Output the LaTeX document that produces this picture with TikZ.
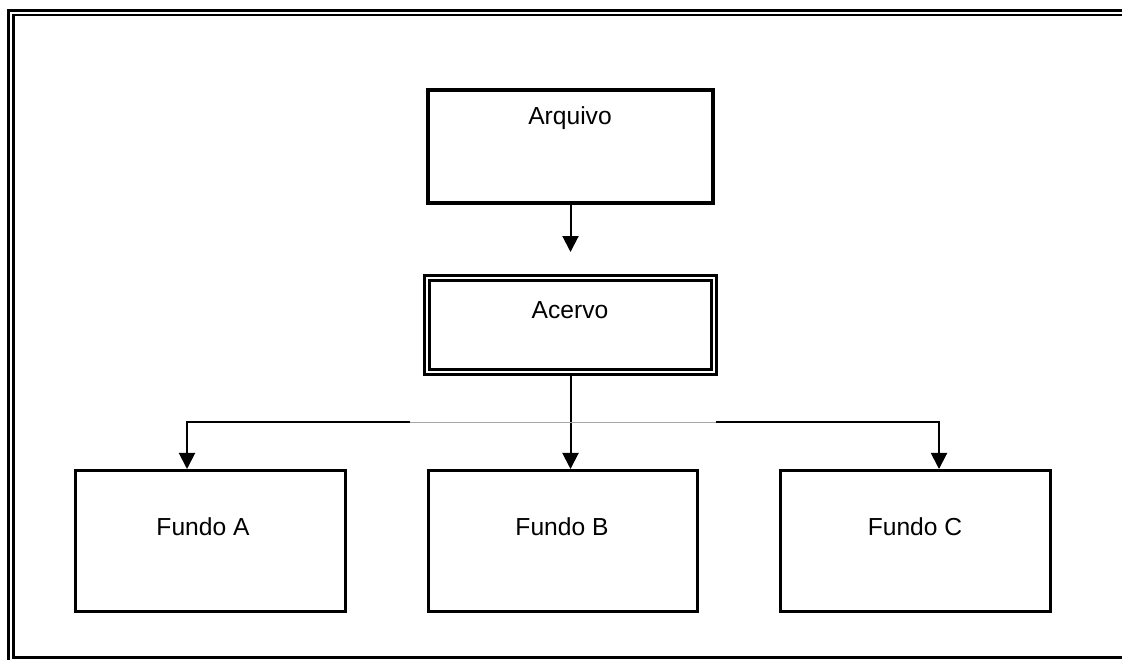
\documentclass[tikz,border=0pt]{standalone}
\usepackage{fontspec}
\setmainfont{Liberation Sans}
\usetikzlibrary{arrows.meta,calc}
\tikzset{
    block/.style = {draw, rectangle, line width=0.075cm, inner sep=0pt,
        minimum height=3.525cm,
        minimum width=6.75cm},
    topblock/.style = {block, line width=0.1cm,
        minimum height=2.825cm,
        minimum width=7.125cm},
    dblock/.style = {block, double, line width=0.075cm, double distance=0.05cm,
        minimum height=2.35cm,
        minimum width=7.175cm},
    txt/.style = {font=\fontsize{17.5pt}{20pt}\selectfont, inner sep=0pt},
    arrow/.style = {draw, line width=0.05cm, -{Triangle[width=0.4cm,length=0.4cm]}},
    bus/.style = {draw, line width=0.05cm}
}
\begin{document}
\begin{tikzpicture}[x=0.025cm, y=-0.025cm]
            \useasboundingbox (0,0) rectangle (1122,659);
            \draw [line width=0.09cm] (1130,10.5) -- (8.5,10.5) -- (8.5,670);
            \draw [line width=0.06cm] (1130,15) -- (13.5,15) -- (13.5,657.5) -- (1130,657.5);
            \node[topblock] (arquivo) at (570.5,146.5) {};
            \node[dblock] (acervo) at (570.5,325) {};
            \node[block] (fundoA) at (210.5,541) {};
            \node[block, minimum width=6.725cm] (fundoB) at (563,541) {};
            \node[block] (fundoC) at (915.5,541) {};
            \node[txt] (arquivolbl) at (570,118) {Arquivo};
            \node[txt] (acervolbl) at (570,310) {Acervo};
            \node[txt] (fundoAlbl) at (203,527) {Fundo A};
            \node[txt] (fundoBlbl) at (562,527) {Fundo B};
            \node[txt] (fundoClbl) at (915,527) {Fundo C};
            \coordinate (arqtip) at (570.5,252);
            \coordinate (busA) at (187,422);
            \coordinate (busC) at (939,422);
            \coordinate (gapA) at (410,422);
            \coordinate (gapC) at (716,422);
            \draw [arrow] (arquivo.south) -- (arqtip);
            \draw [arrow] (acervo.south) -- (acervo.south |- fundoB.north);
            \draw [arrow] (gapA) -- (busA) -- (busA |- fundoA.north);
            \draw [arrow] (gapC) -- (busC) -- (busC |- fundoC.north);
            \draw [gray!70, line width=0.025cm] (gapA) -- (gapC);
        \end{tikzpicture}
\end{document}
